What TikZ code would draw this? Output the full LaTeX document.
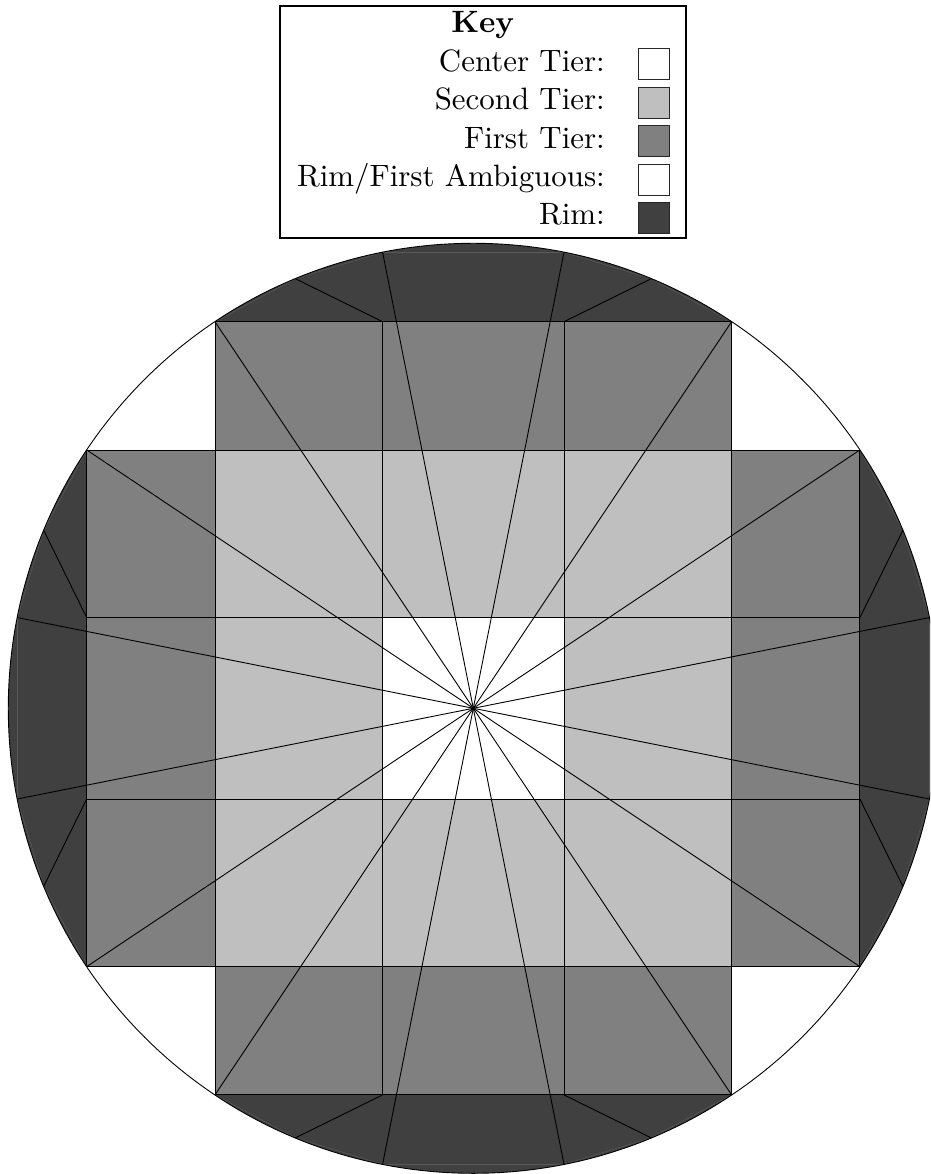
\documentclass[tikz,border=0pt]{standalone}
\definecolor{rimc}{gray}{0.25}
\definecolor{firstc}{gray}{0.5}
\definecolor{secondc}{gray}{0.75}
\newcommand{\keyfont}[1]{\scalebox{3.09}{\fontsize{10}{12}\selectfont #1}}
\tikzset{
  x=1pt,y=1pt,
  gridline/.style={black,line width=0.9pt},
  radial/.style={black,line width=0.9pt},
  seam/.style={gray!70!black,line width=0.5pt},
  swatch/.style={draw=black!85,line width=0.8pt},
  keytext/.style={anchor=base east,inner sep=0pt},
}
\begin{document}
\begin{tikzpicture}
\useasboundingbox (-473.3,-465.7) rectangle (456.7,708.3);
\clip (-473.3,-465.7) rectangle (456.7,708.3);
\def\a{90.7}\def\b{258.3}\def\c{386.6}\def\R{465}
\coordinate (C) at (0,0);
% rim caps
\foreach \s in {56.25,146.25,236.25,326.25}{
  \fill[rimc] (\s:\R pt) arc[start angle=\s,delta angle=67.5,radius=\R pt] -- cycle;
}
% tiers
\fill[firstc] (-\c,-\b) rectangle (\c,\b);
\fill[firstc] (-\b,-\c) rectangle (\b,\c);
\fill[secondc] (-\b,-\b) rectangle (\b,\b);
\fill[white] (-\a,-\a) rectangle (\a,\a);
% seams on the rim chords
\foreach \s/\e in {33.75/22.5,22.5/11.25,11.25/-11.25,-11.25/-22.5,-22.5/-33.75,
  56.25/67.5,67.5/78.75,78.75/101.25,101.25/112.5,112.5/123.75,
  146.25/157.5,157.5/168.75,168.75/191.25,191.25/202.5,202.5/213.75,
  236.25/247.5,247.5/258.75,258.75/281.25,281.25/292.5,292.5/303.75}{
  \draw[seam] (\s:\R pt) -- (\e:\R pt);
}
% grid
\draw[gridline] (-\c,\b) -- (\c,\b) (-\c,\a) -- (\c,\a) (-\c,-\a) -- (\c,-\a) (-\c,-\b) -- (\c,-\b);
\draw[gridline] (-\b,\c) -- (\b,\c) (-\b,-\c) -- (\b,-\c);
\draw[gridline] (-\c,-\b) -- (-\c,\b) (\c,-\b) -- (\c,\b);
\draw[gridline] (-\b,-\c) -- (-\b,\c) (\b,-\c) -- (\b,\c);
\draw[gridline] (-\a,-\c) -- (-\a,\c) (\a,-\c) -- (\a,\c);
% radial lines
\foreach \k in {0,...,15}{
  \pgfmathsetmacro{\ang}{11.25+22.5*\k}
  \coordinate (R\k) at (\ang:\R pt);
  \draw[radial] (C) -- (R\k);
}
% short rim lines
\foreach \n/\x/\y/\ang in {p1/\c/\a/22.5,p2/\a/\c/67.5,p3/-\a/\c/112.5,p4/-\c/\a/157.5,
  p5/-\c/-\a/202.5,p6/-\a/-\c/247.5,p7/\a/-\c/292.5,p8/\c/-\a/337.5}{
  \coordinate (\n i) at (\x,\y);
  \coordinate (\n o) at (\ang:\R pt);
  \draw[radial] (\n i) -- (\n o);
}
% outer circle
\draw[black,line width=0.9pt] (C) circle[radius=\R pt];
% key
\begin{scope}[shift={(-473.3,708.3)},x=1pt,y=-1pt]
  \draw[black,line width=2pt,fill=white] (280,5.7) rectangle (686,237.7);
  \node[keytext,anchor=base] (keyhead) at (482.7,33) {\keyfont{\bfseries Key}};
  \node[keytext] (k1) at (605,71.7) {\keyfont{Center Tier:}};
  \node[keytext] (k2) at (605,110) {\keyfont{Second Tier:}};
  \node[keytext] (k3) at (605,148.3) {\keyfont{First Tier:}};
  \node[keytext] (k4) at (605,186.7) {\keyfont{Rim/First Ambiguous:}};
  \node[keytext] (k5) at (605,225) {\keyfont{Rim:}};
  \draw[swatch,fill=white] (638.3,48.3) rectangle (669.3,79.3);
  \draw[swatch,fill=secondc] (638.3,87) rectangle (669.3,118);
  \draw[swatch,fill=firstc] (638.3,125.4) rectangle (669.3,156.4);
  \draw[swatch,fill=white] (638.3,164) rectangle (669.3,195);
  \draw[swatch,fill=rimc] (638.3,202.3) rectangle (669.3,233.3);
\end{scope}
\end{tikzpicture}
\end{document}
